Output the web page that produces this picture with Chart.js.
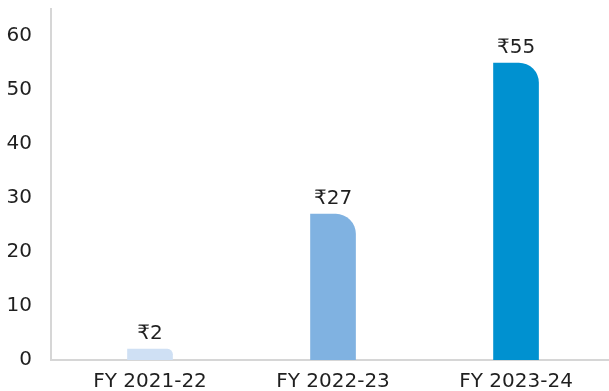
<!DOCTYPE html>
<html>
<head>
<meta charset="utf-8">
<script src="https://cdn.jsdelivr.net/npm/chart.js@4"></script>
<style>
  html, body { margin: 0; padding: 0; background: #ffffff; }
  #wrap { width: 609px; height: 391px; }
</style>
</head>
<body>
<div id="wrap"><canvas id="chart" width="609" height="391"></canvas></div>
<script>
// ---- data ----
const years = ["FY 2021-22", "FY 2022-23", "FY 2023-24"];
const amounts = [2, 27, 55];
const barColors = ["#cfe0f4", "#80b2e1", "#0091d0"];
const yTicks = [0, 10, 20, 30, 40, 50, 60];

const FONT = "'DejaVu Sans', Verdana, sans-serif";
const TEXT = "#1f1f1f";
const AXIS = "#d6d6d6";

// rupee labels above each bar
const valueLabels = {
  id: "valueLabels",
  afterDatasetsDraw(chart) {
    const ctx = chart.ctx;
    const meta = chart.getDatasetMeta(0);
    ctx.save();
    ctx.font = "20px " + FONT;
    ctx.fillStyle = TEXT;
    ctx.textAlign = "center";
    ctx.textBaseline = "alphabetic";
    meta.data.forEach((bar, i) => {
      ctx.fillText("₹" + amounts[i], bar.x, bar.y - 10);
    });
    ctx.restore();
  },
};

// keep the plot area fixed, no extra room for edge labels
function noEdgePadding(scale) {
  scale.paddingTop = 0;
  scale.paddingBottom = 0;
  scale.paddingLeft = 0;
  scale.paddingRight = 0;
}

const ctx = document.getElementById("chart").getContext("2d");

new Chart(ctx, {
  type: "bar",
  data: {
    datasets: [
      {
        data: years.map((y, i) => ({ x: i, y: amounts[i] })),
        backgroundColor: barColors,
        borderWidth: 0,
        borderSkipped: false,
        borderRadius: { topLeft: 0, topRight: 20, bottomLeft: 0, bottomRight: 0 },
        barThickness: 45,
      },
    ],
  },
  options: {
    responsive: false,
    animation: false,
    layout: { padding: { top: 9, right: 0, left: 0, bottom: 0 } },
    plugins: {
      legend: { display: false },
      tooltip: { enabled: false },
    },
    scales: {
      x: {
        type: "linear",
        offset: false,
        min: -0.541,
        max: 2.508,
        grid: { display: false, drawTicks: false },
        border: { display: true, color: AXIS, width: 2 },
        afterBuildTicks(scale) {
          scale.ticks = years.map((y, i) => ({ value: i }));
        },
        afterFit(scale) {
          scale.height = 31;
          noEdgePadding(scale);
        },
        ticks: {
          padding: 10,
          color: TEXT,
          font: { family: FONT, size: 20 },
          maxRotation: 0,
          autoSkip: false,
          callback: (v) => years[v] ?? "",
        },
      },
      y: {
        min: 0,
        max: 65,
        grid: { display: false, drawTicks: false },
        border: { display: true, color: AXIS, width: 2 },
        afterBuildTicks(scale) {
          scale.ticks = yTicks.map((v) => ({ value: v }));
        },
        afterFit(scale) {
          scale.width = 51;
          noEdgePadding(scale);
        },
        ticks: {
          padding: 19,
          color: TEXT,
          font: { family: FONT, size: 20 },
        },
      },
    },
  },
  plugins: [valueLabels],
});
</script>
</body>
</html>
